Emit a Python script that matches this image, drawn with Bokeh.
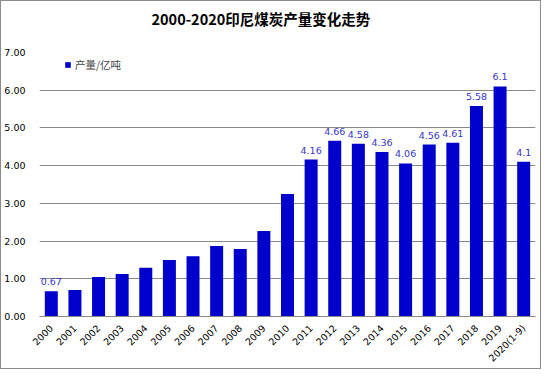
import numpy as np
from bokeh.plotting import figure
from bokeh.models import ColumnDataSource, Title, Legend, LegendItem, FixedTicker, NumeralTickFormatter, Range1d
from bokeh.core.properties import value
from bokeh.embed import file_html
from bokeh.resources import INLINE

years = ["2000", "2001", "2002", "2003", "2004", "2005", "2006", "2007", "2008", "2009",
         "2010", "2011", "2012", "2013", "2014", "2015", "2016", "2017", "2018", "2019", "2020(1-9)"]
output = [0.67, 0.70, 1.05, 1.13, 1.29, 1.50, 1.60, 1.87, 1.79, 2.27,
          3.25, 4.16, 4.66, 4.58, 4.36, 4.06, 4.56, 4.61, 5.58, 6.1, 4.1]
point_labels = ["0.67", "", "", "", "", "", "", "", "", "",
                "", "4.16", "4.66", "4.58", "4.36", "4.06", "4.56", "4.61", "5.58", "6.1", "4.1"]
y_ticks = [0, 1, 2, 3, 4, 5, 6, 7]
title_text = "2000-2020印尼煤炭产量变化走势"
series_name = "产量/亿吨"

src = ColumnDataSource(dict(x=years, y=output, lab=point_labels))

p = figure(x_range=years, width=541, height=369, output_backend="svg", toolbar_location=None,
           min_border_left=34, min_border_right=7, min_border_top=51, min_border_bottom=54)
p.y_range = Range1d(0, 7)
p.x_range.range_padding = 0
p.styles = {"border": "1px solid #8c8c8c", "box-sizing": "border-box"}

bars = p.vbar(x="x", top="y", width=0.55, source=src, fill_color="#0000CC", line_color=None)
p.text(x="x", y="y", text="lab", source=src, text_align="center", text_baseline="bottom",
       y_offset=-6, text_font=value("DejaVu Sans"), text_font_size="9.5px", text_color="#3535D0")

p.outline_line_color = None
p.xgrid.grid_line_color = None
p.ygrid.grid_line_color = "#888888"
p.ygrid.ticker = FixedTicker(ticks=y_ticks)

p.yaxis.ticker = FixedTicker(ticks=y_ticks)
p.yaxis.formatter = NumeralTickFormatter(format="0.00")
p.yaxis.axis_line_color = None
p.yaxis.major_tick_line_color = None
p.yaxis.minor_tick_line_color = None
p.yaxis.major_label_standoff = 8
p.yaxis.major_label_text_font = "DejaVu Sans"
p.yaxis.major_label_text_font_size = "9.5px"
p.yaxis.major_label_text_color = "#000000"

p.xaxis.axis_line_color = "#888888"
p.xaxis.major_tick_line_color = None
p.xaxis.major_label_orientation = np.pi / 4
p.xaxis.major_label_standoff = 4
p.xaxis.major_label_text_font = "DejaVu Sans"
p.xaxis.major_label_text_font_size = "9.5px"
p.xaxis.major_label_text_color = "#000000"

spacer = Title(text=" ", text_font_size="1px", standoff=21)
p.add_layout(spacer, "above")
title = Title(text=title_text, align="left", offset=112, standoff=0,
              text_font="Noto Sans CJK SC", text_font_style="bold", text_font_size="14.5px",
              text_color="#000000")
p.add_layout(title, "above")

legend = Legend(items=[LegendItem(label=series_name, renderers=[bars])], location=(25, 244),
                padding=0, margin=0, glyph_width=7, glyph_height=7, label_height=12, label_width=60,
                label_standoff=4, label_text_font="Noto Sans CJK SC", label_text_font_size="10.5px",
                background_fill_alpha=0, border_line_color=None)
p.add_layout(legend)

open("out.html", "w").write(file_html(p, INLINE))
